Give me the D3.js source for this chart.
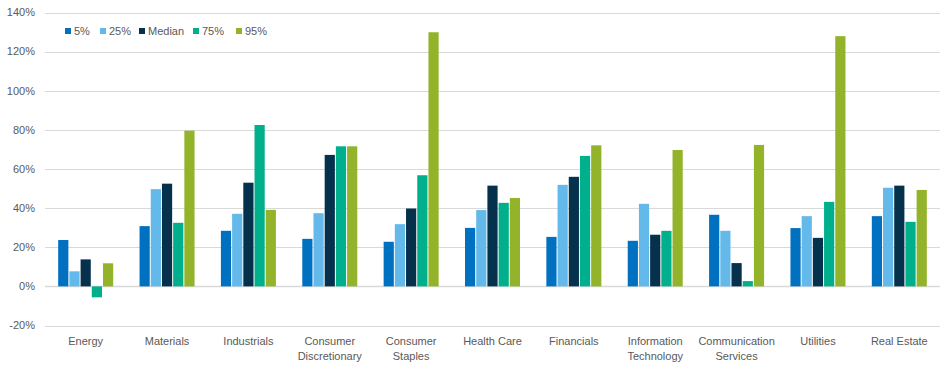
<!DOCTYPE html>
<html><head><meta charset="utf-8">
<script src="https://cdn.jsdelivr.net/npm/d3@7"></script>
<style>body{margin:0;background:#fff}svg{display:block}text{font-family:"Liberation Sans",Arial,sans-serif}</style>
</head><body><svg id="c" width="951" height="369"></svg>
<script>
const categories = ["Energy","Materials","Industrials","Consumer\nDiscretionary","Consumer\nStaples","Health Care","Financials","Information\nTechnology","Communication\nServices","Utilities","Real Estate"];
const seriesNames = ["5%","25%","Median","75%","95%"];
const p5     = [23.7, 30.8, 28.4, 24.3, 22.8, 29.9, 25.3, 23.3, 36.6, 29.8, 35.9];
const p25    = [7.7, 49.7, 37.1, 37.4, 31.8, 39.0, 51.9, 42.2, 28.4, 35.9, 50.4];
const median = [13.8, 52.5, 53.0, 67.2, 39.8, 51.5, 56.0, 26.4, 11.9, 24.8, 51.5];
const p75    = [-5.6, 32.5, 82.5, 71.6, 56.8, 42.7, 66.7, 28.4, 2.7, 43.2, 33.0];
const p95    = [11.8, 79.6, 39.1, 71.6, 129.9, 45.2, 72.1, 69.7, 72.3, 127.9, 49.3];
const yTicks = [-20, 0, 20, 40, 60, 80, 100, 120, 140];
const colors = ["#0070C0","#63B9E9","#05314D","#00AF8B","#93B32A"];

const values = [p5, p25, median, p75, p95];
const svg = d3.select("#c");
const left = 45, right = 940;
const y = d3.scale = d3.scaleLinear().domain([-20, 140]).range([325.5, 12.5]);
const x0 = d3.scaleBand().domain(categories).range([left, right]).paddingInner(0.324).paddingOuter(0.162);
const x1 = d3.scaleBand().domain(seriesNames).range([0, x0.bandwidth()]).paddingInner(0.09);

// gridlines
svg.append("g").selectAll("line").data(yTicks).join("line")
  .attr("x1", left).attr("x2", right)
  .attr("y1", d => Math.round(y(d)) + 0.5).attr("y2", d => Math.round(y(d)) + 0.5)
  .attr("stroke", "#d9d9d9").attr("stroke-width", d => d === 0 ? 1.5 : 1);

// y labels
svg.append("g").selectAll("text").data(yTicks).join("text")
  .attr("x", 35).attr("y", d => y(d)).attr("dy", "0.35em")
  .attr("text-anchor", "end").attr("font-size", 11).attr("fill", "#595959")
  .text(d => d + "%");

// bars
const g = svg.append("g").selectAll("g").data(categories).join("g")
  .attr("transform", d => `translate(${x0(d)},0)`);
g.selectAll("rect").data((c, i) => seriesNames.map((s, j) => ({s, j, v: values[j][i]}))).join("rect")
  .attr("x", d => x1(d.s)).attr("width", x1.bandwidth())
  .attr("y", d => y(Math.max(0, d.v))).attr("height", d => Math.abs(y(d.v) - y(0)))
  .attr("fill", d => colors[d.j]);

// category labels
const lab = svg.append("g").selectAll("text").data(categories).join("text")
  .attr("x", d => x0(d) + x0.bandwidth() / 2).attr("y", 345)
  .attr("text-anchor", "middle").attr("font-size", 11).attr("fill", "#595959");
lab.selectAll("tspan").data(d => d.split("\n")).join("tspan")
  .attr("x", function(){ return this.parentNode.getAttribute("x"); })
  .attr("dy", (d, i) => i === 0 ? 0 : 15).text(d => d);

// legend
const legX = [65, 100, 139, 193, 236];
const leg = svg.append("g").selectAll("g").data(seriesNames).join("g")
  .attr("transform", (d, i) => `translate(${legX[i]},28)`);
leg.append("rect").attr("width", 6).attr("height", 6).attr("fill", (d, i) => colors[i]);
leg.append("text").attr("x", 9).attr("y", 3).attr("dy", "0.35em")
  .attr("font-size", 11).attr("fill", "#595959").text(d => d);
</script></body></html>
